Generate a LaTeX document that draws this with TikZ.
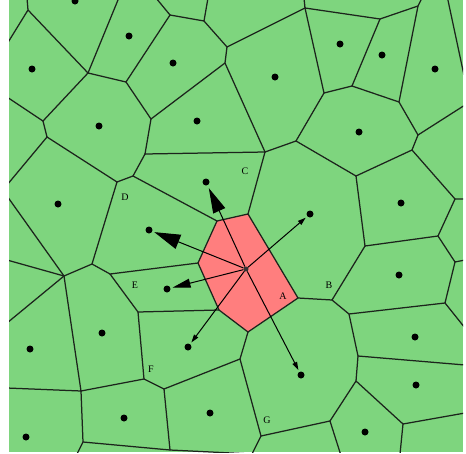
\documentclass[tikz,border=0pt]{standalone}
\usepackage{fontspec}
\setmainfont{Liberation Serif}
\usetikzlibrary{arrows.meta}
\definecolor{cellgreen}{RGB}{126,213,126}
\definecolor{cellred}{RGB}{255,126,126}
\definecolor{edgecol}{RGB}{28,36,28}
\begin{document}
\begin{tikzpicture}[x=1pt,y=-1pt,
  edge/.style={draw=edgecol, line width=1.25pt, line cap=round},
  site/.style={circle, fill=black, inner sep=0pt, minimum size=7pt},
  hub/.style={circle, fill=black!80, inner sep=0pt, minimum size=5pt},
  lbl/.style={font=\fontsize{10}{11}\selectfont, inner sep=0pt},
  arr/.style={draw=black, line width=1pt},
  bighead/.style={arr, -{Triangle[length=25pt,width=13pt]}},
  midhead/.style={arr, -{Triangle[length=26pt,width=15pt]}},
  smallhead/.style={arr, -{Triangle[length=18pt,width=9pt]}},
  tinyhead/.style={arr, -{Triangle[length=8pt,width=5pt]}}]
\useasboundingbox (0,0) rectangle (466,453);
\fill[white] (0,0) rectangle (466,453);
\begin{scope}
\clip (9,0) rectangle (463,452);
\fill[cellgreen] (9,0) rectangle (463,452);
% boundary points
\coordinate (t1) at (27,-2);  \coordinate (t2) at (118.8,-2);
\coordinate (t3) at (156,-2); \coordinate (t4) at (208,-2);
\coordinate (t5) at (304,-2); \coordinate (t6) at (422,-2);
\coordinate (t7) at (447.5,-2);
\coordinate (l1) at (7,44);  \coordinate (l2) at (7,97);
\coordinate (l3) at (7,185); \coordinate (l4) at (7,196);
\coordinate (l5) at (7,260); \coordinate (l6) at (7,323);
\coordinate (l7) at (7,388);
\coordinate (r1) at (465,80);  \coordinate (r2) at (465,105);
\coordinate (r3) at (465,199); \coordinate (r4) at (465,260);
\coordinate (r5) at (465,328); \coordinate (r6) at (465,365);
\coordinate (r7) at (465,413);
\coordinate (b1) at (77,454);  \coordinate (b2) at (252,454);
\coordinate (b3) at (340.5,454); \coordinate (b4) at (400,454);
% Voronoi vertices
\coordinate (A1) at (28,10);   \coordinate (A2) at (88,73);
\coordinate (A3) at (43,121);  \coordinate (A4) at (47,137);
\coordinate (A5) at (117,182); \coordinate (A6) at (133,176);
\coordinate (A7) at (145,154); \coordinate (A8) at (151,119);
\coordinate (A9) at (126,82);  \coordinate (A10) at (170,15);
\coordinate (A11) at (204,21); \coordinate (A12) at (227,47);
\coordinate (A13) at (225,63); \coordinate (A14) at (305,8);
\coordinate (A15) at (380,19); \coordinate (A16) at (418,6);
\coordinate (A17) at (352,86); \coordinate (A18) at (324,93);
\coordinate (A19) at (296,141);\coordinate (A20) at (265,152);
\coordinate (A21) at (356,176);\coordinate (A22) at (412,150);
\coordinate (A23) at (418,135);\coordinate (A24) at (455,199);
\coordinate (A25) at (438,236);\coordinate (A26) at (455,262);
\coordinate (A27) at (445,303);\coordinate (A28) at (365,246);
\coordinate (A29) at (332,300);\coordinate (A30) at (349,314);
\coordinate (A31) at (358,356);\coordinate (A32) at (356,381);
\coordinate (A33) at (403,424);\coordinate (A34) at (330,421);
\coordinate (A35) at (261,436);\coordinate (A36) at (240,359);
\coordinate (A37) at (164,389);\coordinate (A38) at (144,379);
\coordinate (A39) at (138,312);\coordinate (A40) at (110,274);
\coordinate (A41) at (92,264); \coordinate (A42) at (64,276);
\coordinate (A43) at (81,391); \coordinate (A44) at (83,442);
\coordinate (A45) at (170,450);\coordinate (A46) at (399,102);
% red cell
\coordinate (R1) at (248,214); \coordinate (R2) at (217,221);
\coordinate (R3) at (198,263); \coordinate (R4) at (219,310);
\coordinate (R5) at (248,332); \coordinate (R6) at (298,298);
\filldraw[fill=cellred, edge, line join=round] (R1) -- (R2) -- (R3) -- (R4) -- (R5) -- (R6) -- cycle;
% edges
\draw[edge] (t1) -- (A1) -- (l1);
\draw[edge] (A1) -- (A2);
\draw[edge] (t2) -- (A2) -- (A9);
\draw[edge] (A2) -- (A3) -- (l2);
\draw[edge] (A3) -- (A4) -- (l3);
\draw[edge] (A4) -- (A5) -- (A41);
\draw[edge] (A5) -- (A6) -- (A7);
\draw[edge] (A6) -- (R2);
\draw[edge] (A7) -- (A8) -- (A9);
\draw[edge] (A7) -- (A20);
\draw[edge] (A8) -- (A13);
\draw[edge] (A9) -- (A10) -- (t3);
\draw[edge] (A10) -- (A11) -- (t4);
\draw[edge] (A11) -- (A12) -- (A14);
\draw[edge] (A12) -- (A13) -- (A20);
\draw[edge] (t5) -- (A14) -- (A15);
\draw[edge] (A14) -- (A18);
\draw[edge] (A15) -- (A16) -- (t6);
\draw[edge] (A15) -- (A17);
\draw[edge] (A16) -- (A46);
\draw[edge] (A17) -- (A46) -- (A23);
\draw[edge] (A17) -- (A18) -- (A19) -- (A20);
\draw[edge] (A19) -- (A21);
\draw[edge] (A20) -- (R1);
\draw[edge] (A21) -- (A28);
\draw[edge] (A21) -- (A22) -- (A23) -- (r2);
\draw[edge] (A22) -- (A24) -- (r3);
\draw[edge] (t7) -- (r1);
\draw[edge] (A24) -- (A25) -- (A28);
\draw[edge] (A25) -- (A26) -- (r4);
\draw[edge] (A26) -- (A27) -- (r5);
\draw[edge] (A27) -- (A30);
\draw[edge] (A28) -- (A29) -- (R6);
\draw[edge] (A29) -- (A30) -- (A31) -- (r6);
\draw[edge] (A31) -- (A32) -- (A33) -- (r7);
\draw[edge] (A33) -- (b4);
\draw[edge] (A32) -- (A34) -- (b3);
\draw[edge] (A34) -- (A35) -- (b2);
\draw[edge] (A35) -- (A36) -- (R5);
\draw[edge] (A36) -- (A37) -- (A45);
\draw[edge] (A37) -- (A38) -- (A39) -- (R4);
\draw[edge] (A38) -- (A43);
\draw[edge] (A39) -- (A40) -- (R3);
\draw[edge] (A40) -- (A41) -- (A42);
\draw[edge] (A42) -- (l4);
\draw[edge] (A42) -- (l5);
\draw[edge] (A42) -- (l6);
\draw[edge] (A42) -- (A43) -- (l7);
\draw[edge] (A43) -- (A44) -- (b1);
\draw[edge] (A44) -- (A45) -- (b2);
% sites
\node[site] (d1) at (75,1) {};
\node[site] (d2) at (129,36) {};
\node[site] (d3) at (173,63) {};
\node[site] (d4) at (32,69) {};
\node[site] (d5) at (99,126) {};
\node[site] (d6) at (197,121) {};
\node[site] (d7) at (275,77) {};
\node[site] (d8) at (340,44) {};
\node[site] (d9) at (382,55) {};
\node[site] (d10) at (435,69) {};
\node[site] (d11) at (359,132) {};
\node[site] (d12) at (206,182) {};
\node[site] (d13) at (310,214) {};
\node[site] (d14) at (401,203) {};
\node[site] (d15) at (149,230) {};
\node[site] (d16) at (58,204) {};
\node[site] (d17) at (167,289) {};
\node[site] (d18) at (399,275) {};
\node[site] (d19) at (102,333) {};
\node[site] (d20) at (30,349) {};
\node[site] (d21) at (188,347) {};
\node[site] (d22) at (415,337) {};
\node[site] (d23) at (301,375) {};
\node[site] (d24) at (416,385) {};
\node[site] (d25) at (124,418) {};
\node[site] (d26) at (210,413) {};
\node[site] (d27) at (26,437) {};
\node[site] (d28) at (365,432) {};
\node[hub] (c) at (246,269) {};
% arrows
\draw[bighead, shorten >=3pt] (c) -- (d12);
\draw[midhead, shorten >=2pt] (c) -- (d15);
\draw[smallhead, shorten >=2pt] (c) -- (d17);
\draw[tinyhead, shorten >=2pt] (c) -- (d13);
\draw[tinyhead, shorten >=2pt] (c) -- (d21);
\draw[tinyhead, shorten >=2pt] (c) -- (d23);
% labels
\node[lbl] (lD) at (125,197) {D};
\node[lbl] (lC) at (245,171) {C};
\node[lbl] (lE) at (135,285) {E};
\node[lbl] (lB) at (329,285) {B};
\node[lbl] (lA) at (283,296) {A};
\node[lbl] (lF) at (151,369) {F};
\node[lbl] (lG) at (267,420) {G};
\end{scope}
\end{tikzpicture}
\end{document}
